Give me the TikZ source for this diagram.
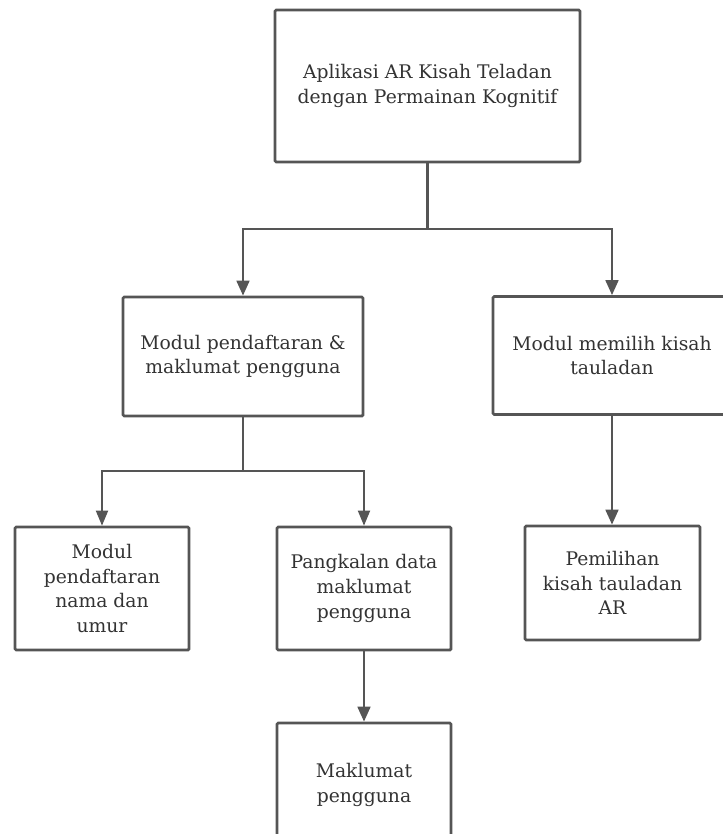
\documentclass[tikz,border=0pt]{standalone}
\usepackage{fontspec}
\setmainfont{DejaVu Serif}
\usepackage{xcolor}
\usepackage{tikz}
\usetikzlibrary{arrows.meta,positioning}
\definecolor{linec}{HTML}{555555}
\definecolor{textc}{HTML}{333333}
\tikzset{
  ar/.style={-{Triangle[length=4.5mm,width=3.8mm]},line width=2.3pt,linec},
  arthin/.style={-{Triangle[length=4.5mm,width=3.6mm]},line width=1.6pt,linec},
  box/.style={draw=linec,line width=2.3pt,rounded corners=1pt,fill=white,align=center,text=textc,inner sep=2pt,
    font=\fontsize{16}{21}\selectfont}
}

\begin{document}
\begin{tikzpicture}[x=0.03cm,y=-0.03cm]
\clip (0,0) rectangle (723,834);
\fill[white] (0,0) rectangle (723,834);
\node[box,minimum width=9.15cm,minimum height=4.56cm] (app) at (427.5,86) {Aplikasi AR Kisah Teladan\\dengan Permainan Kognitif};
\node[box,minimum width=7.2cm,minimum height=3.57cm] (daftar) at (243,356.5) {Modul pendaftaran \&\\maklumat pengguna};
\node[box,minimum width=7.14cm,minimum height=3.54cm] (pilih) at (612,355.5) {Modul memilih kisah\\tauladan};
\node[box,minimum width=5.22cm,minimum height=3.69cm] (nama) at (102,588.5) {Modul\\pendaftaran\\nama dan\\umur};
\node[box,minimum width=5.22cm,minimum height=3.69cm] (pangkalan) at (364,588.5) {Pangkalan data\\maklumat\\pengguna};
\node[box,minimum width=5.25cm,minimum height=3.42cm] (kisah) at (612.5,583) {Pemilihan\\kisah tauladan\\AR};
\node[box,minimum width=5.22cm,minimum height=3.72cm] (maklumat) at (364,785) {Maklumat\\pengguna};
% cabang atas
\coordinate (jatas) at (427.5,229);
\draw[linec,line width=2.3pt] (app.south) -- (jatas);
\draw[ar] (jatas) -| (daftar.north);
\draw[ar] (jatas) -| (pilih.north);
% cabang pendaftaran
\coordinate (jbawah) at (243,471);
\draw[linec,line width=1.6pt] (daftar.south) -- (jbawah);
\draw[arthin] (jbawah) -| (nama.north);
\draw[arthin] (jbawah) -| (pangkalan.north);
\draw[ar] (pilih.south) -- (pilih.south |- kisah.north);
\draw[ar] (pangkalan.south) -- (maklumat.north);
\end{tikzpicture}
\end{document}
